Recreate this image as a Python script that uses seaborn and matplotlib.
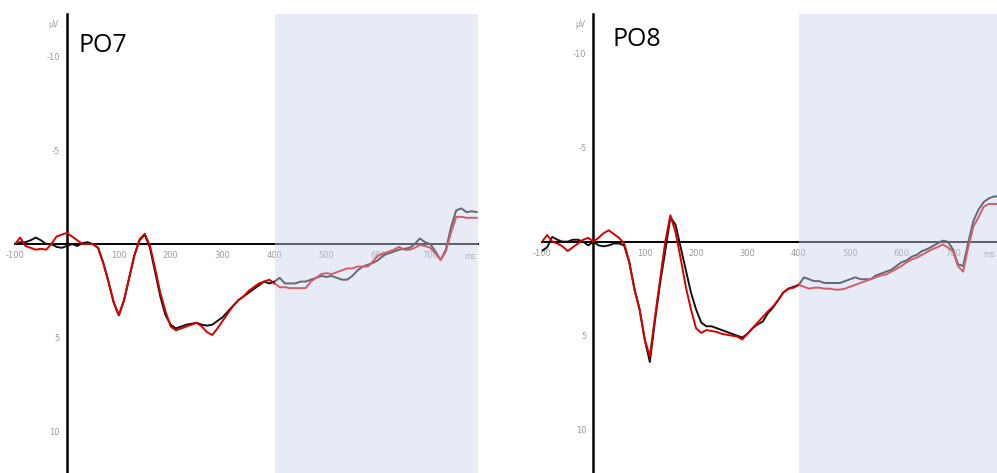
import numpy as np
import pandas as pd
import matplotlib
matplotlib.use('Agg')
import matplotlib.pyplot as plt
import seaborn as sns

sns.set_style('white')
plt.rcParams['font.family'] = ['DejaVu Sans']

# time axis in ms (10 ms steps), amplitudes in microvolts (negative up)
time_ms = list(range(-100, 800, 10))

po7_black = [
    0.0, -0.1, -0.1, -0.2, -0.35, -0.2, 0.0, 0.0, 0.15, 0.2,
    0.1, 0.0, 0.1, -0.05, -0.1, 0.0, 0.2, 1.0, 2.0, 3.1,
    3.8, 3.0, 1.8, 0.6, -0.2, -0.5, 0.2, 1.5, 2.8, 3.8,
    4.3, 4.5, 4.4, 4.3, 4.25, 4.2, 4.3, 4.35, 4.3, 4.1,
    3.9, 3.6, 3.3, 3.0, 2.8, 2.6, 2.4, 2.2, 2.0, 2.1,
    2.0, 1.8, 2.1, 2.1, 2.1, 2.0, 2.0, 1.9, 1.8, 1.7,
    1.75, 1.7, 1.8, 1.9, 1.9, 1.7, 1.4, 1.2, 1.1, 1.0,
    0.85, 0.6, 0.5, 0.4, 0.3, 0.25, 0.2, 0.0, -0.3, -0.1,
    0.0, 0.4, 0.85, 0.3, -0.9, -1.8, -1.9, -1.7, -1.75, -1.7,
]
po7_red = [
    0.0, -0.35, 0.1, 0.2, 0.3, 0.25, 0.3, 0.0, -0.4, -0.5,
    -0.6, -0.4, -0.2, 0.0, 0.0, 0.0, 0.2, 1.0, 2.0, 3.1,
    3.8, 3.0, 1.8, 0.6, -0.25, -0.55, 0.1, 1.3, 2.6, 3.6,
    4.4, 4.6, 4.5, 4.4, 4.3, 4.2, 4.4, 4.7, 4.85, 4.5,
    4.1, 3.7, 3.3, 3.0, 2.8, 2.5, 2.3, 2.1, 2.0, 1.9,
    2.1, 2.3, 2.3, 2.35, 2.35, 2.35, 2.35, 2.0, 1.8, 1.6,
    1.55, 1.6, 1.5, 1.4, 1.3, 1.3, 1.2, 1.2, 1.2, 0.9,
    0.6, 0.5, 0.4, 0.3, 0.15, 0.3, 0.3, 0.2, 0.05, 0.1,
    0.2, 0.5, 0.85, 0.4, -0.6, -1.45, -1.45, -1.4, -1.4, -1.4,
]
po8_black = [
    0.5, 0.3, -0.25, -0.1, 0.0, 0.0, -0.1, -0.1, 0.0, 0.2,
    0.0, 0.2, 0.25, 0.2, 0.1, 0.1, 0.2, 1.1, 2.5, 3.6,
    5.2, 6.4, 4.2, 2.2, 0.5, -1.3, -0.9, 0.3, 1.5, 2.7,
    3.6, 4.3, 4.5, 4.5, 4.6, 4.7, 4.8, 4.9, 5.0, 5.1,
    4.9, 4.6, 4.4, 4.25, 3.8, 3.5, 3.1, 2.7, 2.5, 2.4,
    2.3, 1.9, 2.0, 2.1, 2.1, 2.2, 2.2, 2.2, 2.2, 2.1,
    2.0, 1.9, 2.0, 2.0, 2.0, 1.8, 1.7, 1.6, 1.5, 1.3,
    1.1, 1.0, 0.8, 0.7, 0.5, 0.4, 0.25, 0.1, -0.05, 0.0,
    0.4, 1.2, 1.3, 0.05, -1.1, -1.7, -2.1, -2.3, -2.4, -2.4,
]
po8_red = [
    0.0, -0.35, 0.0, 0.1, 0.25, 0.5, 0.3, 0.1, -0.1, -0.2,
    0.0, -0.2, -0.45, -0.6, -0.4, -0.2, 0.1, 1.1, 2.55, 3.6,
    5.2, 6.1, 4.0, 2.0, 0.0, -1.4, -0.5, 0.9, 2.4, 3.6,
    4.6, 4.85, 4.7, 4.75, 4.8, 4.9, 4.95, 5.0, 5.05, 5.2,
    4.9, 4.6, 4.3, 4.0, 3.7, 3.45, 3.1, 2.7, 2.5, 2.45,
    2.3, 2.4, 2.5, 2.45, 2.45, 2.5, 2.5, 2.55, 2.55, 2.5,
    2.4, 2.3, 2.2, 2.1, 2.0, 1.9, 1.8, 1.75, 1.6, 1.45,
    1.3, 1.1, 0.95, 0.85, 0.7, 0.55, 0.4, 0.3, 0.15, 0.3,
    0.5, 1.3, 1.6, 0.3, -0.8, -1.3, -1.85, -2.0, -2.0, -2.0,
]

xtick_pos = [-100, 100, 200, 300, 400, 500, 600, 700]
xtick_labels = ['-100', '100', '200', '300', '400', '500', '600', '700']
ytick_pos = [-10, -5, 5, 10]
ytick_labels = ['-10', '-5', '5', '10']

W, H = 997, 473
fig = plt.figure(figsize=(W / 100, H / 100), dpi=100)


def draw_panel(rect, black, red, name, name_xy, xmax, ytop, ybot):
    ax = fig.add_axes(rect)
    ax.patch.set_alpha(0)
    n = len(time_ms)
    df = pd.DataFrame({
        't': time_ms * 2,
        'uv': black + red,
        'cond': ['a'] * n + ['b'] * n,
    })
    sns.lineplot(data=df, x='t', y='uv', hue='cond', estimator=None,
                 palette={'a': '#111111', 'b': '#D80000'},
                 linewidth=1.4, legend=False, ax=ax, zorder=3)
    ax.set_xlim(-100, xmax)
    ax.set_ylim(ybot, ytop)  # inverted: negative up

    for s in ['top', 'right']:
        ax.spines[s].set_visible(False)
    ax.spines['left'].set_position(('data', 0))
    ax.spines['bottom'].set_position(('data', 0))
    ax.spines['left'].set_linewidth(1.8)
    ax.spines['bottom'].set_linewidth(1.4)
    ax.spines['left'].set_color('black')
    ax.spines['bottom'].set_color('black')

    ax.set_xticks(xtick_pos)
    ax.set_xticklabels(xtick_labels)
    ax.set_xticks(np.arange(-100, xmax, 20), minor=True)
    ax.set_yticks(ytick_pos)
    ax.set_yticklabels(ytick_labels)
    ax.tick_params(axis='both', which='major', labelsize=6, labelcolor='#9a9a9a',
                   length=3, width=1.2, color='black', direction='out', pad=2)
    ax.tick_params(axis='x', which='minor', length=2, width=1.2, color='black', direction='out')
    ax.set_xlabel('')
    ax.set_ylabel('')

    ax.annotate('µV', xy=(0, 1), xycoords=('data', 'axes fraction'),
                xytext=(-6, -4), textcoords='offset points',
                ha='right', va='top', fontsize=5.5, color='#9a9a9a')
    ax.annotate('ms', xy=(xmax, 0), xycoords='data',
                xytext=(-6, -6), textcoords='offset points',
                ha='center', va='top', fontsize=5.5, color='#9a9a9a')

    # analysis window overlay
    ax.axvspan(400, xmax, color='#C9D3EC', alpha=0.45, lw=0, zorder=5)

    fig.text(name_xy[0] / W, 1 - name_xy[1] / H, name, family='Open Sans',
             fontsize=18, va='baseline', ha='left', color='black')
    return ax


draw_panel([15 / W, 0, (478 - 15) / W, (H - 14) / H],
           po7_black, po7_red, 'PO7', (78, 52), 792, -12.27, 12.21)
draw_panel([542 / W, 0, (997 - 542) / W, (H - 14) / H],
           po8_black, po8_red, 'PO8', (612, 46), 786, -12.1, 12.3)

fig.savefig('out.png', dpi=100)
